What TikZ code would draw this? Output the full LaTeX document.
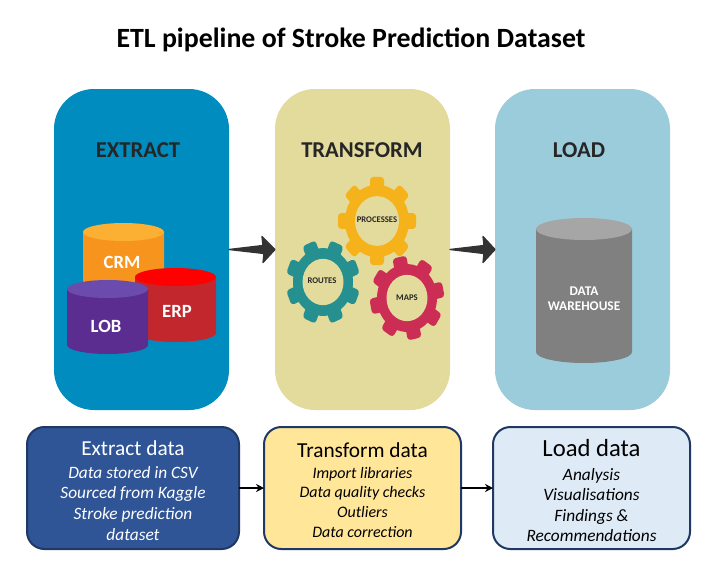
\documentclass[tikz,border=0pt]{standalone}
\usepackage{fontspec}
\setmainfont{Carlito}
\usetikzlibrary{arrows.meta}

\definecolor{extractblue}{HTML}{008CBF}
\definecolor{transformsand}{HTML}{E3DB9B}
\definecolor{loadblue}{HTML}{9BCCDB}
\definecolor{boxedge}{HTML}{1F3864}
\definecolor{arrowgrey}{HTML}{333333}
\definecolor{crmbody}{HTML}{F7941E}
\definecolor{crmlid}{HTML}{FBB034}
\definecolor{erpbody}{HTML}{C1272D}
\definecolor{erplid}{HTML}{FF0000}
\definecolor{lobbody}{HTML}{5C2D91}
\definecolor{loblid}{HTML}{6B4BAB}
\definecolor{dwbody}{HTML}{808080}
\definecolor{dwlid}{HTML}{A6A6A6}
\definecolor{gearyellow}{HTML}{F5B21A}
\definecolor{gearteal}{HTML}{25908F}
\definecolor{gearred}{HTML}{CC2D55}
\definecolor{extractfill}{HTML}{2F5597}
\definecolor{transformfill}{HTML}{FFE699}
\definecolor{loadfill}{HTML}{DEEAF6}

\tikzset{
  panel/.style={inner sep=0pt, outer sep=0pt, rounded corners=30pt, minimum width=131.25pt, minimum height=240.75pt},
  infobox/.style={draw=boxedge, line width=1.5pt, rounded corners=13pt, inner sep=0pt, outer sep=0pt, minimum height=91.5pt, align=center},
  paneltitle/.style={font=\bfseries\fontsize{17}{17}\selectfont, text=black!85},
  dblabel/.style={font=\bfseries\fontsize{14}{14}\selectfont, text=white},
  gearlabel/.style={font=\bfseries\fontsize{6.5}{6.5}\selectfont, text=black!85},
  bigarrow/.style={fill=arrowgrey, draw=arrowgrey, line width=1pt, line join=round},
  smallarrow/.style={-{Stealth[length=6pt,width=6pt]}, line width=1.4pt, black}
}

\newcommand{\database}[7]{% x, top y, bottom y, rx, ry, body, lid
  \fill[#6] (#1-#4,#2) -- (#1-#4,#3) arc[start angle=180, end angle=0, x radius=#4, y radius=#5] -- (#1+#4,#2) -- cycle;
  \fill[#7] (#1,#2) ellipse [x radius=#4, y radius=#5];
}
\newcommand{\gearwheel}[7]{% x, y, outer r, root r, hole r, phase, colour
  \begin{scope}[shift={(#1,#2)}, yscale=1.13]
    \fill[#7] (0,0) circle [radius=#4];
    \foreach \a in {0,45,...,315}
      \fill[#7, rounded corners=2.5pt, rotate=\a+#6] (-7,0) rectangle (7,#3);
    \fill[transformsand] (0,0) circle [radius=#5];
  \end{scope}
}
\newcommand{\pipearrow}[2]{%
  \draw[bigarrow] (#1.east) -- ++(34,-4) -- ++(-1,-9) -- (#2.west) -- ++(-12,13) -- ++(1,-9) -- cycle;
}

\begin{document}
\begin{tikzpicture}[x=0.75pt, y=-0.75pt]
\useasboundingbox (0,0) rectangle (724,565);

\node[font=\bfseries\fontsize{20.9}{20.9}\selectfont] (title) at (351,40) {ETL pipeline of Stroke Prediction Dataset};

\node[panel, fill=extractblue] (extract) at (141.5,249.5) {};
\node[panel, fill=transformsand] (transform) at (362.5,249.5) {};
\node[panel, fill=loadblue] (load) at (582.5,249.5) {};

\node[paneltitle] (extracttitle) at (138,150) {EXTRACT};
\node[paneltitle] (transformtitle) at (362,150) {TRANSFORM};
\node[paneltitle] (loadtitle) at (579,150) {LOAD};

\pipearrow{extract}{transform}
\pipearrow{transform}{load}

\database{123.5}{232}{292}{40.5}{9}{crmbody}{crmlid}
\database{175.5}{277}{333}{40.5}{9}{erpbody}{erplid}
\database{107.5}{289}{345}{40.5}{9}{lobbody}{loblid}
\node[dblabel] (crm) at (122,262) {CRM};
\node[dblabel] (erp) at (177,311) {ERP};
\node[dblabel] (lob) at (106,326) {LOB};

\database{584}{229}{352}{48}{11}{dwbody}{dwlid}
\node[dblabel, font=\bfseries\fontsize{10}{11.5}\selectfont, align=center] (warehouse) at (584,299) {DATA\\WAREHOUSE};

\gearwheel{377}{221}{39}{32}{22}{0}{gearyellow}
\gearwheel{323}{282}{37}{30}{20.5}{22.5}{gearteal}
\gearwheel{407}{298}{37}{30}{20.5}{12}{gearred}
\node[gearlabel] (processes) at (377,220) {PROCESSES};
\node[gearlabel] (routes) at (322,281) {ROUTES};
\node[gearlabel] (maps) at (407,298) {MAPS};

\node[infobox, fill=extractfill, text=white, minimum width=159pt, font=\itshape\fontsize{13}{15.4}\selectfont] (extractbox) at (133,488)
  {\rule{0pt}{15pt}{\upshape\fontsize{16}{16}\selectfont Extract data}\\[1.5pt]
   Data stored in CSV\\ Sourced from Kaggle\\ Stroke prediction\\ dataset};
\node[infobox, fill=transformfill, minimum width=147.75pt, font=\itshape\fontsize{12}{14.8}\selectfont] (transformbox) at (362.5,488)
  {\rule{0pt}{14pt}{\upshape\fontsize{16}{16}\selectfont Transform data}\\[1pt]
   Import libraries\\ Data quality checks\\ Outliers\\ Data correction};
\node[infobox, fill=loadfill, minimum width=147.75pt, font=\itshape\fontsize{13}{15.4}\selectfont] (loadbox) at (591.5,488)
  {\rule{0pt}{17pt}{\upshape\fontsize{18.5}{18.5}\selectfont Load data}\\[2pt]
   Analysis\\ Visualisations\\ Findings \&\\ Recommendations};

\draw[smallarrow] (extractbox) -- (transformbox);
\draw[smallarrow] (transformbox) -- (loadbox);
\end{tikzpicture}
\end{document}
